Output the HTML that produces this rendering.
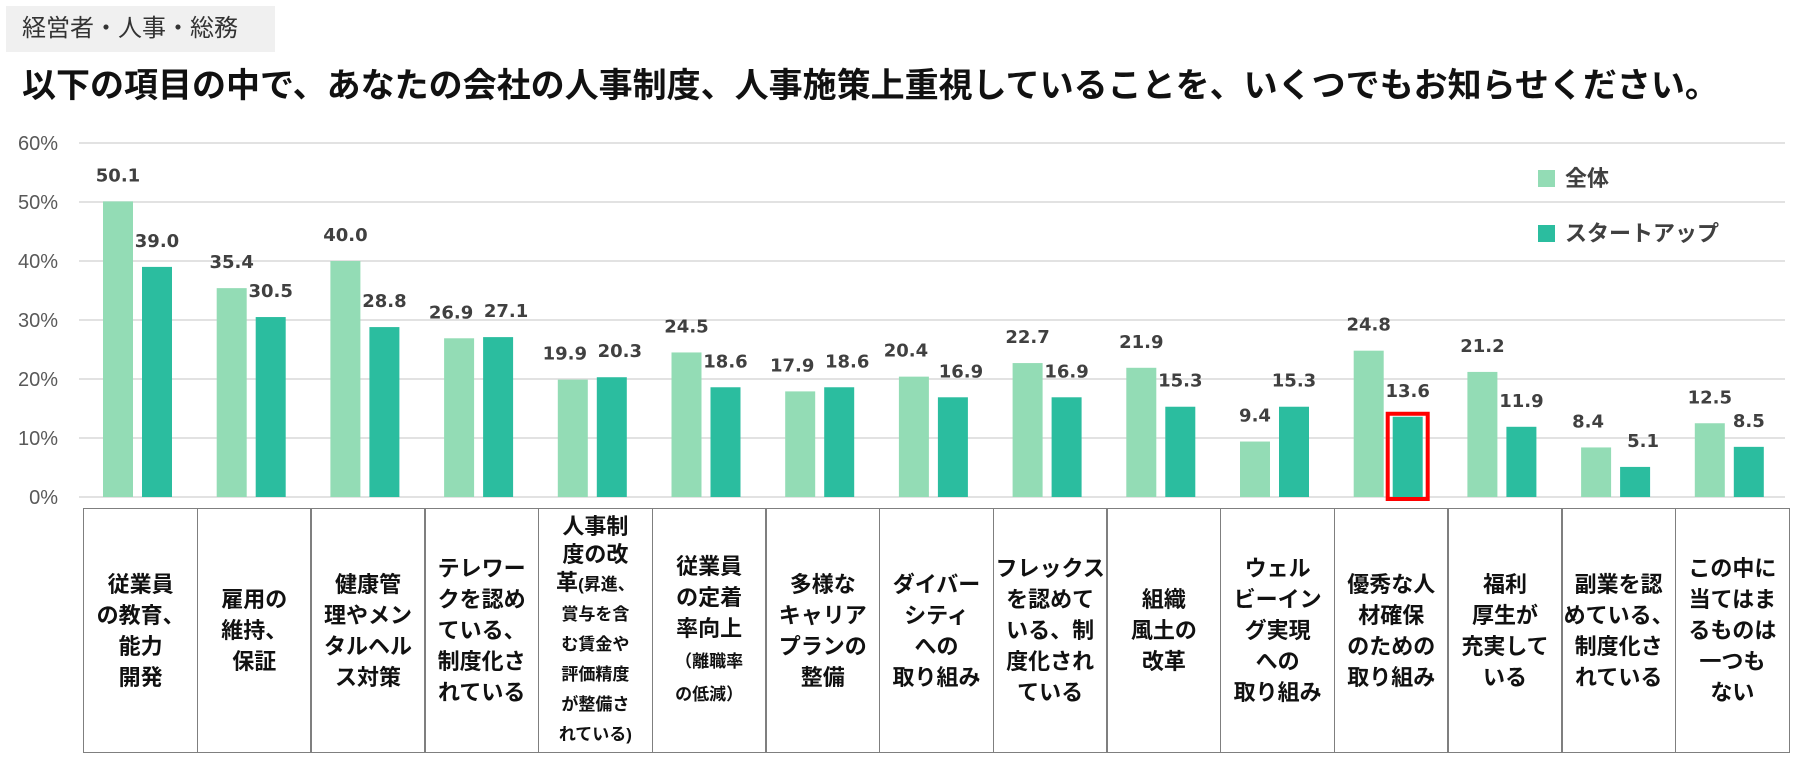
<!DOCTYPE html>
<html><head><meta charset="utf-8">
<style>
body{margin:0;width:1800px;height:764px;background:#fff;font-family:"Liberation Sans","Noto Sans CJK JP",sans-serif;overflow:hidden;position:relative}
#hdr{position:absolute;left:6px;top:6px;width:269px;height:46px;background:#f0f0f0;color:#333;font-size:24px;line-height:46px;padding-left:16px;box-sizing:border-box;white-space:nowrap}
#title{position:absolute;left:22px;top:58px;font-size:34px;font-weight:bold;color:#111;white-space:nowrap}
svg{position:absolute;left:0;top:0}
.cat{position:absolute;top:508px;height:245px;border:1.5px solid #7f7f7f;box-sizing:border-box;display:flex;align-items:center;justify-content:center;text-align:center;font-weight:bold;font-size:22px;line-height:31px;color:#111}
.tight{line-height:28px}
.sm{font-size:17px}
</style></head><body>
<div id="hdr">経営者・人事・総務</div>
<div id="title">以下の項目の中で、あなたの会社の人事制度、人事施策上重視していることを、いくつでもお知らせください。</div>
<svg id="chart" width="1800" height="764"></svg>
<div id="cats"></div>
<script>
const categories=["従業員<br>の教育、<br>能力<br>開発","雇用の<br>維持、<br>保証","健康管<br>理やメン<br>タルヘル<br>ス対策","テレワー<br>クを認め<br>ている、<br>制度化さ<br>れている","人事制<br>度の改<br>革<span class='sm'>(昇進、<br>賞与を含<br>む賃金や<br>評価精度<br>が整備さ<br>れている)</span>","従業員<br>の定着<br>率向上<br><span class='sm'>（離職率<br>の低減）</span>","多様な<br>キャリア<br>プランの<br>整備","ダイバー<br>シティ<br>への<br>取り組み","フレックス<br>を認めて<br>いる、制<br>度化され<br>ている","組織<br>風土の<br>改革","ウェル<br>ビーイン<br>グ実現<br>への<br>取り組み","優秀な人<br>材確保<br>のための<br>取り組み","福利<br>厚生が<br>充実して<br>いる","副業を認<br>めている、<br>制度化さ<br>れている","この中に<br>当てはま<br>るものは<br>一つも<br>ない"];
const allValues=[50.1,35.4,40.0,26.9,19.9,24.5,17.9,20.4,22.7,21.9,9.4,24.8,21.2,8.4,12.5];
const startupValues=[39.0,30.5,28.8,27.1,20.3,18.6,18.6,16.9,16.9,15.3,15.3,13.6,11.9,5.1,8.5];
const yTicks=[0,10,20,30,40,50,60];
const seriesNames=["全体","スタートアップ"];
const highlightIndex=11;

const NS="http://www.w3.org/2000/svg";
const svg=document.getElementById('chart');
const x0=83,colW=113.7,y0=497,yTop=143,ymax=60;
const y=v=>y0-(v/ymax)*(y0-yTop);
const colX=i=>x0+i*colW;
function mk(t,a){const e=document.createElementNS(NS,t);for(const k in a)e.setAttribute(k,a[k]);svg.appendChild(e);return e;}
yTicks.forEach(t=>{
 const l=mk('line',{x1:79,x2:1785,y1:y(t),y2:y(t),stroke:'#d9d9d9','stroke-width':1.5});
 
 
 const tx=mk('text',{x:58,y:y(t)+7,'text-anchor':'end','font-size':20,fill:'#595959'});
 tx.textContent=t+'%';
 
 
});
const colors=['#93dcb5','#2bbd9f'];
[allValues,startupValues].forEach((vals,s)=>{
 vals.forEach((v,i)=>{
  const bx=colX(i)+20+s*39;
  const r=mk('rect',{x:bx,y:y(v),width:30,height:y0-y(v),fill:colors[s]});
  
  
  const close=Math.abs(y(allValues[i])-y(startupValues[i]))<22;
  const off=close?(s?8:-8):0;
  const tx=mk('text',{x:bx+15+off,y:y(v)-20,'text-anchor':'middle','font-size':18,'font-weight':'bold',fill:'#404040','font-family':'DejaVu Sans, sans-serif'});
  tx.textContent=v.toFixed(1);
  
  
 });
});
{const i=highlightIndex,v=startupValues[i],bx=colX(i)+59;
 const r=mk('rect',{x:bx-5,y:y(v)-3,width:40,height:y0-y(v)+5,fill:'none',stroke:'#ff0000','stroke-width':4});
 
 }
seriesNames.forEach((n,s)=>{
 const r=mk('rect',{x:1538,y:170+s*55,width:17,height:17,fill:colors[s]});
 
 
 const t=mk('text',{x:1565,y:186+s*55,'font-size':22,'font-weight':'bold',fill:'#404040'});
 t.textContent=n;
 
 
});
const cats=document.getElementById('cats');
categories.forEach((c,i)=>{
 const d=document.createElement('div');
 d.className='cat'+(i===4?' tight':'');
 d.style.left=colX(i)+'px';
 d.style.width=(colW+1.5)+'px';
 d.innerHTML='<div>'+c+'</div>';
 
 
 cats.appendChild(d);
});
</script>
</body></html>
